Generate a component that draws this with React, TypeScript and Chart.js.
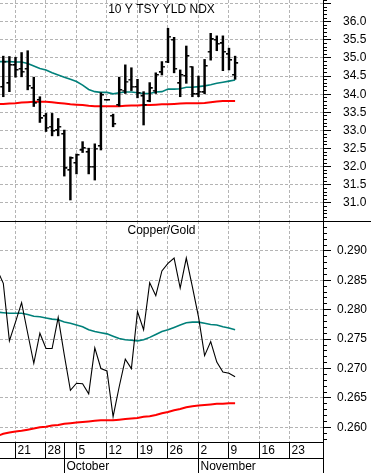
import React, { useEffect, useRef } from 'react';
import { Chart, registerables } from 'chart.js';
Chart.register(...registerables);

// ---- x axis: trading-day index (0 = Sep 17) ----
const weekTicks = [2, 7, 12, 17, 22, 27, 32, 37, 42, 47];
const weekLabels = ['21', '28', '5', '12', '19', '26', '2', '9', '16', '23'];
const monthStarts = [10, 32];
const monthLabels = ['October', 'November'];

// ---- 10 Y TSY YLD NDX (OHLC, index 0..38) ----
const tsyOpen = [34.2, 34.3, 34.8, 34.7, 34.7, 34.16, 33.84, 33.4, 33.1, 33.0, 32.9, 31.9, 32.1, 32.45, 32.4, 32.0, 32.57, 33.84, 33.4, 33.7, 34.1, 34.4, 34.2, 33.95, 33.8, 34.1, 34.6, 34.9, 35.5, 34.3, 34.5, 34.76, 34.0, 34.05, 35.17, 35.5, 35.4, 35.1, 34.53];
const tsyHigh = [35.05, 35.04, 35.02, 35.15, 35.2, 34.47, 33.93, 33.47, 33.47, 33.33, 33.01, 32.27, 32.35, 32.69, 32.51, 32.63, 34.04, 33.84, 33.45, 34.47, 34.81, 34.73, 34.41, 34.07, 34.32, 34.59, 34.9, 35.82, 35.57, 34.67, 35.33, 34.76, 34.5, 34.96, 35.68, 35.61, 35.61, 35.27, 35.05];
const tsyLow = [33.93, 34.07, 34.47, 34.48, 34.12, 33.66, 33.22, 32.97, 32.85, 32.85, 31.74, 31.08, 31.8, 32.39, 31.8, 31.63, 32.46, 33.84, 33.1, 33.67, 34.02, 34.1, 33.9, 33.15, 33.79, 34.02, 34.53, 34.87, 34.59, 33.93, 34.3, 33.93, 33.93, 34.01, 34.94, 35.2, 34.65, 34.67, 34.41];
const tsyClose = [34.9, 34.81, 34.67, 34.62, 34.23, 33.75, 33.33, 33.08, 32.98, 33.1, 31.95, 32.23, 32.32, 32.51, 32.0, 32.5, 33.98, 33.84, 33.18, 34.12, 34.35, 34.21, 34.04, 33.7, 34.16, 34.53, 34.76, 35.59, 34.7, 34.53, 35.05, 34.0, 34.07, 34.78, 35.51, 35.39, 35.17, 34.94, 34.85];
// moving averages (index -1..38)
const tsyMaShort = [34.9, 34.9, 34.9, 34.89, 34.89, 34.85, 34.78, 34.71, 34.67, 34.59, 34.53, 34.47, 34.41, 34.35, 34.25, 34.13, 34.07, 34.05, 34.05, 34.01, 34.04, 34.06, 34.06, 34.04, 34.02, 34.02, 34.06, 34.07, 34.14, 34.14, 34.15, 34.19, 34.19, 34.21, 34.23, 34.26, 34.3, 34.33, 34.36, 34.39];
const tsyMaLong = [33.73, 33.73, 33.74, 33.75, 33.77, 33.78, 33.79, 33.79, 33.79, 33.78, 33.76, 33.74, 33.72, 33.71, 33.7, 33.68, 33.67, 33.67, 33.67, 33.67, 33.67, 33.68, 33.69, 33.69, 33.7, 33.7, 33.71, 33.72, 33.72, 33.73, 33.74, 33.75, 33.75, 33.75, 33.76, 33.78, 33.8, 33.81, 33.81, 33.81];
const tsyLabelValues = [31.0, 31.5, 32.0, 32.5, 33.0, 33.5, 34.0, 34.5, 35.0, 35.5, 36.0];

// ---- Copper/Gold (index -1..38) ----
const cgRatio = [0.2868, 0.2845, 0.2747, 0.2779, 0.2812, 0.276, 0.2709, 0.276, 0.2734, 0.2734, 0.2787, 0.2723, 0.2663, 0.2675, 0.2674, 0.2657, 0.2735, 0.27, 0.2696, 0.2618, 0.2669, 0.2716, 0.27, 0.2797, 0.2766, 0.2846, 0.2824, 0.2866, 0.2879, 0.2888, 0.2837, 0.2888, 0.2839, 0.2788, 0.2722, 0.2746, 0.2711, 0.2694, 0.2692, 0.2686];
const cgMaShort = [0.2796, 0.2795, 0.2794, 0.2794, 0.2794, 0.2792, 0.2789, 0.2788, 0.2786, 0.2784, 0.2783, 0.2779, 0.2777, 0.2774, 0.2771, 0.2766, 0.2763, 0.2761, 0.2759, 0.2755, 0.2751, 0.2749, 0.2748, 0.2747, 0.2749, 0.2753, 0.2758, 0.2763, 0.2766, 0.277, 0.2774, 0.2778, 0.2779, 0.2779, 0.2777, 0.2775, 0.2774, 0.2771, 0.2769, 0.2766];
const cgMaLong = [0.2585, 0.2589, 0.2591, 0.2593, 0.2594, 0.2596, 0.2598, 0.26, 0.2601, 0.2603, 0.2604, 0.2606, 0.2607, 0.2608, 0.2609, 0.261, 0.2611, 0.2612, 0.2612, 0.2612, 0.2613, 0.2614, 0.2615, 0.2616, 0.2618, 0.2619, 0.2621, 0.2624, 0.2626, 0.2629, 0.2631, 0.2634, 0.2636, 0.2637, 0.2638, 0.2639, 0.264, 0.264, 0.2641, 0.2641];
const cgLabelValues = [0.26, 0.265, 0.27, 0.275, 0.28, 0.285, 0.29];

const FONT = '"Liberation Sans", Arial, Helvetica, sans-serif';
const GRID = '#b4b4b4';
const TEAL = '#00807a';
const RED = '#ff0000';
const X_MIN = -0.54;
const X_MAX = 52.41;

const series = (vals: number[], start: number) => vals.map((v, i) => ({ x: i + start, y: v }));

function tickImage(side: 'open' | 'close') {
  const c = document.createElement('canvas');
  c.width = 8;
  c.height = 2;
  const g = c.getContext('2d')!;
  g.fillStyle = '#000';
  if (side === 'open') g.fillRect(1, 0, 3, 1.5);
  else g.fillRect(4, 0, 3, 1.5);
  return c;
}

function xScale() {
  return {
    type: 'linear',
    min: X_MIN,
    max: X_MAX,
    offset: false,
    afterBuildTicks: (s: any) => { s.ticks = weekTicks.map((v) => ({ value: v })); },
    afterFit: (s: any) => { s.height = 0; s.paddingLeft = 0; s.paddingRight = 0; },
    ticks: { display: false },
    grid: { color: GRID, drawTicks: false, offset: false, lineWidth: 1 },
    border: { display: false, dash: [3, 2] },
  };
}

function yScale(min: number, max: number, step: number, majorEvery: number, labelValues: number[], digits: number, padding: number) {
  const k0 = Math.ceil(min / step - 1e-6);
  const k1 = Math.floor(max / step + 1e-6);
  const vals: number[] = [];
  for (let k = k0; k <= k1; k++) vals.push(+(k * step).toFixed(digits + 1));
  const isMajor = (v: number) => Math.round(v / step) % majorEvery === 0;
  const isLabel = (v: number) => labelValues.some((l) => Math.abs(l - v) < step / 4);
  return {
    type: 'linear',
    position: 'right',
    min,
    max,
    afterBuildTicks: (s: any) => { s.ticks = vals.map((v) => ({ value: v })); },
    afterFit: (s: any) => { s.width = 48; s.paddingTop = 0; s.paddingBottom = 0; },
    ticks: {
      autoSkip: false,
      padding,
      color: '#000',
      font: { family: FONT, size: 12 },
      callback: (v: number) => (isLabel(v) ? v.toFixed(digits) : ''),
    },
    grid: {
      drawTicks: false,
      lineWidth: 1,
      color: (ctx: any) => (ctx.tick && isMajor(ctx.tick.value) && ctx.tick.value > min + step / 2 && ctx.tick.value < max - step / 2 ? GRID : 'rgba(0,0,0,0)'),
    },
    border: { display: true, color: '#000', width: 1, dash: [3, 2] },
    _isMajor: isMajor,
  };
}

function decorPlugin(title: string, isMajor: (v: number) => boolean, withXAxis: boolean) {
  return {
    id: 'decor',
    afterDraw(chart: any) {
      const ctx = chart.ctx;
      const area = chart.chartArea;
      const ys = chart.scales.y;
      const xs = chart.scales.x;
      ctx.save();
      ctx.strokeStyle = '#000';
      ctx.lineWidth = 1;
      for (const t of ys.ticks) {
        const py = Math.floor(ys.getPixelForValue(t.value)) + 0.5;
        if (py < area.top - 1 || py > area.bottom + 1) continue;
        ctx.beginPath();
        ctx.moveTo(ys.left, py);
        ctx.lineTo(ys.left + (isMajor(t.value) ? 8 : 4), py);
        ctx.stroke();
      }
      ctx.fillStyle = '#000';
      ctx.font = '12px ' + FONT;
      ctx.textAlign = 'center';
      ctx.textBaseline = 'middle';
      ctx.fillText(title, (area.left + area.right) / 2, area.top + 10);
      if (withXAxis) {
        const line = (x1: number, y1: number, x2: number, y2: number) => {
          ctx.beginPath();
          ctx.moveTo(x1, y1);
          ctx.lineTo(x2, y2);
          ctx.stroke();
        };
        line(0, area.top + 0.5, chart.width, area.top + 0.5);
        const b = area.bottom;
        line(0, b + 0.5, area.right, b + 0.5);
        line(0, b + 16.5, area.right, b + 16.5);
        line(area.right + 0.5, b, area.right + 0.5, chart.height);
        ctx.textAlign = 'left';
        weekTicks.forEach((d, i) => {
          const px = Math.floor(xs.getPixelForValue(d)) + 0.5;
          line(px, b, px, b + 16.5);
          ctx.fillText(weekLabels[i], px + 2, b + 9);
        });
        monthStarts.forEach((d, i) => {
          const px = Math.floor(xs.getPixelForValue(d)) + 0.5;
          line(px, b, px, chart.height);
          ctx.fillText(monthLabels[i], px + 2, b + 24.5);
        });
      }
      ctx.restore();
    },
  };
}

const baseOptions = {
  animation: false,
  responsive: false,
  events: [],
  plugins: { legend: { display: false }, tooltip: { enabled: false }, title: { display: false } },
};

export default function App() {
  const topRef = useRef<HTMLCanvasElement>(null);
  const botRef = useRef<HTMLCanvasElement>(null);

  useEffect(() => {
    document.body.style.margin = '0';
    const openImg = tickImage('open');
    const closeImg = tickImage('close');

    const yTop: any = yScale(30.5, 36.6, 0.1, 5, tsyLabelValues, 1, 20);
    const topChart = new Chart(topRef.current!, {
      type: 'line',
      data: {
        datasets: [
          {
            type: 'bar',
            data: tsyHigh.map((h, i) => ({ x: i, y: [tsyLow[i], h] })),
            backgroundColor: '#000',
            borderWidth: 0,
            barThickness: 1.8,
            order: 1,
          } as any,
          { data: series(tsyOpen, 0), showLine: false, pointStyle: openImg, pointRadius: 1, order: 0 } as any,
          { data: series(tsyClose, 0), showLine: false, pointStyle: closeImg, pointRadius: 1, order: 0 } as any,
          { data: series(tsyMaShort, -1), borderColor: TEAL, borderWidth: 1.6, pointRadius: 0, order: 3 },
          { data: series(tsyMaLong, -1), borderColor: RED, borderWidth: 2, pointRadius: 0, order: 4 },
        ],
      },
      options: {
        ...baseOptions,
        layout: { padding: 0, autoPadding: false },
        scales: { x: xScale() as any, y: yTop },
      } as any,
      plugins: [decorPlugin('10 Y TSY YLD NDX', yTop._isMajor, false)],
    });

    const yBot: any = yScale(0.2575, 0.2951, 0.001, 5, cgLabelValues, 3, 14);
    const botChart = new Chart(botRef.current!, {
      type: 'line',
      data: {
        datasets: [
          { data: series(cgRatio, -1), borderColor: '#000', borderWidth: 1.1, pointRadius: 0, order: 0 },
          { data: series(cgMaShort, -1), borderColor: TEAL, borderWidth: 1.6, pointRadius: 0, order: 1 },
          { data: series(cgMaLong, -1), borderColor: RED, borderWidth: 2, pointRadius: 0, order: 2 },
        ],
      },
      options: {
        ...baseOptions,
        layout: { padding: { top: 0, left: 0, right: 0, bottom: 31 }, autoPadding: false },
        scales: { x: xScale() as any, y: yBot },
      } as any,
      plugins: [decorPlugin('Copper/Gold', yBot._isMajor, true)],
    });

    return () => {
      topChart.destroy();
      botChart.destroy();
    };
  }, []);

  return (
    <div style={{ position: 'absolute', left: 0, top: 0, width: 371, height: 473, background: '#fff' }}>
      <canvas ref={topRef} width={371} height={221} style={{ display: 'block' }} />
      <canvas ref={botRef} width={371} height={252} style={{ display: 'block' }} />
    </div>
  );
}
